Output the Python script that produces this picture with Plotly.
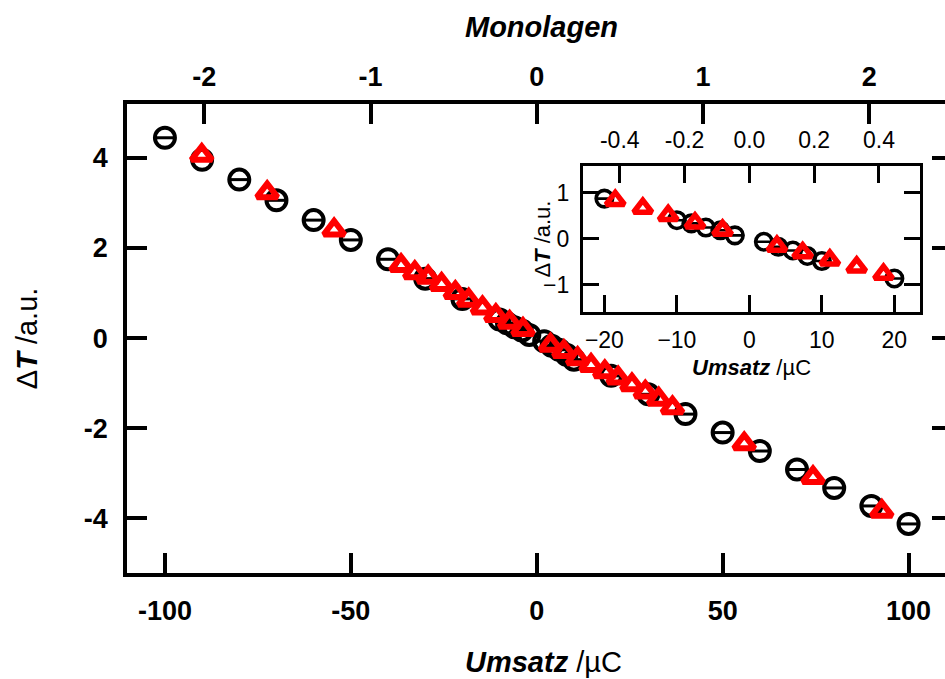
import plotly.graph_objects as go

# ---- data (main plot) ----
umsatz_circ = [-100, -90, -80, -70, -60, -50, -40, -30, -20, -10, -8, -6, -4, -2,
               2, 4, 6, 8, 10, 20, 30, 40, 50, 60, 70, 80, 90, 100]
dT_circ = [4.45, 3.96, 3.52, 3.06, 2.62, 2.18, 1.75, 1.32, 0.87, 0.41, 0.33, 0.24, 0.17, 0.07,
           -0.07, -0.17, -0.26, -0.37, -0.48, -0.84, -1.25, -1.69, -2.10, -2.51, -2.92, -3.33, -3.73, -4.13]

umsatz_tri = [-90.1, -72.5, -54.5, -36.5, -32.8, -29.2, -25.6, -21.9, -18.3, -14.6, -11.0, -7.3, -3.7,
              3.7, 7.3, 11.0, 14.6, 18.3, 21.9, 25.6, 29.2, 32.8, 36.5, 55.8, 74.3, 92.8]
dT_tri = [4.06, 3.23, 2.40, 1.61, 1.45, 1.35, 1.19, 1.01, 0.84, 0.67, 0.50, 0.35, 0.19,
          -0.16, -0.30, -0.46, -0.61, -0.75, -0.89, -1.04, -1.20, -1.36, -1.55, -2.35, -3.10, -3.85]

# ---- data (inset) ----
ins_umsatz_circ = [-20, -10, -8, -6, -4, -2, 2, 4, 6, 8, 10, 20]
ins_dT_circ = [0.87, 0.40, 0.33, 0.24, 0.18, 0.07, -0.07, -0.18, -0.26, -0.38, -0.49, -0.87]
ins_umsatz_tri = [-18.5, -14.7, -11.2, -7.5, -3.7, 3.8, 7.35, 11.1, 14.8, 18.5]
ins_dT_tri = [0.83, 0.66, 0.50, 0.34, 0.18, -0.17, -0.31, -0.47, -0.62, -0.78]

main_x_ticks = [-100, -50, 0, 50, 100]
main_y_ticks = [-4, -2, 0, 2, 4]
mono_ticks = [-2, -1, 0, 1, 2]
inset_x_ticks = [-20, -10, 0, 10, 20]
inset_y_ticks = [-1, 0, 1]
inset_mono_ticks = [-0.4, -0.2, 0.0, 0.2, 0.4]
inset_mono_labels = ["-0.4", "-0.2", "0.0", "0.2", "0.4"]

UC_PER_ML = 44.7

FONT = "Liberation Sans"
main_xr = [-110.2, 109.8]
main_yr = [-5.22, 5.2]
ins_xr = [-23.0, 23.6]
ins_yr = [-1.6, 1.58]

fig = go.Figure()

def add_series(xc, yc, xt, yt, xa, ya, circ_size, tri_size, lw, tlw):
    fig.add_trace(go.Scatter(x=xc, y=yc, mode="markers", xaxis=xa, yaxis=ya,
                             marker=dict(symbol="circle-open", size=circ_size, color="black",
                                         line=dict(width=lw, color="black")),
                             showlegend=False, hoverinfo="skip"))
    fig.add_trace(go.Scatter(x=xc, y=yc, mode="markers", xaxis=xa, yaxis=ya,
                             marker=dict(symbol="line-ew", size=circ_size / 1.45, color="black",
                                         line=dict(width=lw - 1, color="black")),
                             showlegend=False, hoverinfo="skip"))
    fig.add_trace(go.Scatter(x=xt, y=yt, mode="markers", xaxis=xa, yaxis=ya,
                             marker=dict(symbol="triangle-up-open", size=tri_size, color="#ff0000",
                                         line=dict(width=tlw, color="#ff0000")),
                             showlegend=False, hoverinfo="skip"))

add_series(umsatz_circ, dT_circ, umsatz_tri, dT_tri, "x", "y", 20, 18, 4, 6)
add_series(ins_umsatz_circ, ins_dT_circ, ins_umsatz_tri, ins_dT_tri, "x3", "y3", 16.5, 16, 3.6, 5.5)

# invisible anchors so that the secondary (overlaying) axes are drawn
for xa, ya in [("x2", "y"), ("x", "y2"), ("x4", "y3"), ("x3", "y4")]:
    fig.add_trace(go.Scatter(x=[0], y=[0], xaxis=xa, yaxis=ya, mode="markers",
                             marker=dict(opacity=0, size=1), showlegend=False, hoverinfo="skip"))

main_tick_font = dict(family=FONT, size=27, color="black")
ins_tick_font = dict(family=FONT, size=23, color="black")

ins_dom_x = [0.557, 0.970]
ins_dom_y = [0.5565, 0.8678]

common_main = dict(ticks="inside", tickcolor="black", showgrid=False, zeroline=False, linecolor="black")
common_ins = dict(ticks="inside", ticklen=17, tickwidth=2.5, tickcolor="black",
                  showgrid=False, zeroline=False, linecolor="black", linewidth=2.5)

fig.update_layout(
    width=945, height=679,
    margin=dict(l=127, r=0, t=104, b=106),
    paper_bgcolor="white", plot_bgcolor="white",
    font=dict(family=FONT, color="black"),
    xaxis=dict(range=main_xr, domain=[0, 1], anchor="y", tickvals=main_x_ticks,
               ticktext=[f"<b>{v}</b>" for v in main_x_ticks], ticklen=20, tickwidth=3.5,
               showline=True, linewidth=3.5, tickfont=main_tick_font, ticklabelstandoff=11,
               **common_main),
    xaxis2=dict(range=[main_xr[0] / UC_PER_ML, main_xr[1] / UC_PER_ML], overlaying="x", side="top",
                anchor="y", tickvals=mono_ticks, ticktext=[f"<b>{v}</b>" for v in mono_ticks],
                ticklen=20, tickwidth=3.5, showline=True, linewidth=3.5,
                tickfont=main_tick_font, ticklabelstandoff=3, **common_main),
    yaxis=dict(range=main_yr, domain=[0, 1], anchor="x", tickvals=main_y_ticks,
               ticktext=[f"<b>{v}</b>" for v in main_y_ticks], ticklen=20, tickwidth=3.5,
               showline=True, linewidth=3.5, tickfont=main_tick_font, ticklabelstandoff=10,
               **common_main),
    yaxis2=dict(range=main_yr, overlaying="y", side="right", anchor="x", tickvals=main_y_ticks,
                ticklen=13, tickwidth=3.5, showticklabels=False, showline=False, **common_main),
    xaxis3=dict(range=ins_xr, domain=ins_dom_x, anchor="y3", tickvals=inset_x_ticks,
                showline=True, tickfont=ins_tick_font, ticklabelstandoff=6, **common_ins),
    xaxis4=dict(range=[ins_xr[0] / UC_PER_ML, ins_xr[1] / UC_PER_ML], overlaying="x3", side="top",
                anchor="y3", tickvals=inset_mono_ticks, ticktext=inset_mono_labels,
                showline=True, tickfont=ins_tick_font, ticklabelstandoff=6, **common_ins),
    yaxis3=dict(range=ins_yr, domain=ins_dom_y, anchor="x3", tickvals=inset_y_ticks,
                showline=True, tickfont=ins_tick_font, ticklabelstandoff=6, **common_ins),
    yaxis4=dict(range=ins_yr, overlaying="y3", side="right", anchor="x3", tickvals=inset_y_ticks,
                showticklabels=False, showline=True, **common_ins),
)

def ann(text, x, y, size, angle=0):
    fig.add_annotation(text=text, x=x, y=y, xref="paper", yref="paper", showarrow=False,
                       xanchor="center", yanchor="middle", textangle=angle,
                       font=dict(family=FONT, size=size, color="black"))

ann("<b><i>Umsatz</i></b> /µC", 0.5086, -0.19, 29)
ann("<b><i>Monolagen</i></b>", 0.507, 1.164, 29)
ann("Δ<b><i>T</i></b> /a.u.", -0.122, 0.501, 29, -90)
ann("<b><i>Umsatz</i></b> /µC", 0.764, 0.439, 22)
ann("Δ<b><i>T</i></b> /a.u.", 0.508, 0.712, 22, -90)

fig.write_html("out.html")
